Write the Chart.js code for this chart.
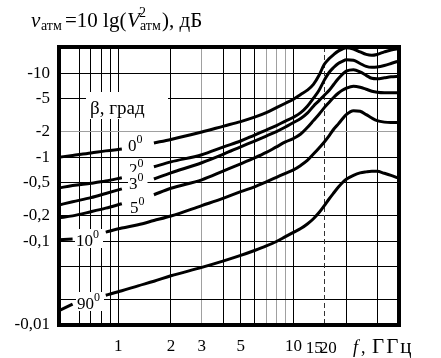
<!DOCTYPE html>
<html>
<head>
<meta charset="utf-8">
<script src="https://cdn.jsdelivr.net/npm/chart.js@4.4.1/dist/chart.umd.min.js"></script>
<style>
  html, body { margin: 0; padding: 0; background: #fff; }
  #wrap { width: 441px; height: 358px; }
</style>
</head>
<body>
<div id="wrap"><canvas id="atmChart" width="441" height="358"></canvas></div>
<script>
// frequency, GHz (null in a series = break for the curve label)
const freqs = [0.46, 0.55, 0.7, 0.85, 1.05, 1.3, 1.6, 2, 3, 4, 5, 6, 7, 8, 9, 10,
  11, 12, 13, 14, 15, 16, 17, 18, 19, 20, 22, 24, 26, 28, 30, 33, 36, 40];

// v_atm, dB, for elevation angle beta
const beta0 = [-1.0, -1.05, -1.12, -1.19, -1.25, null, -1.48, -1.63, -2.0, -2.35, -2.66, -3.0, -3.4, -3.9, -4.4, -4.9,
  -5.6, -6.3, -7.4, -9.5, -12.8, -15.0, -16.8, -18.4, -19.5, -20.2, -19.5, -18.0, -16.8, -16.4, -16.8, -18.0, -19.0, -19.8];
const beta2 = [-0.43, -0.46, -0.49, -0.52, -0.57, null, -0.77, -0.88, -1.07, -1.33, -1.56, -1.84, -2.11, -2.38, -2.7, -3.0,
  -3.4, -4.06, -5.05, -6.3, -8.3, -10.3, -11.8, -13.1, -13.9, -14.5, -14.3, -13.1, -12.1, -11.8, -11.9, -12.4, -13.1, -14.1];
const beta3 = [-0.27, -0.295, -0.33, -0.37, -0.42, null, -0.55, -0.65, -0.86, -1.09, -1.33, -1.56, -1.79, -2.02, -2.29, -2.59,
  -2.89, -3.35, -4.06, -4.72, -5.48, -6.28, -7.41, -8.61, -9.73, -10.6, -11.0, -10.4, -9.47, -8.72, -8.61, -8.85, -9.09, -9.21];
const beta5 = [-0.19, -0.2, -0.224, -0.247, -0.279, null, -0.357, -0.427, -0.538, -0.688, -0.833, -0.98, -1.14, -1.33, -1.52, -1.67,
  -1.89, -2.26, -2.73, -3.26, -3.9, -4.53, -5.19, -5.79, -6.28, -6.64, -7.01, -6.82, -6.46, -6.12, -5.95, -5.87, -5.87, -5.87];
const beta10 = [-0.104, -0.106, null, -0.128, -0.143, -0.157, -0.176, -0.199, -0.265, -0.325, -0.388, -0.444, -0.509, -0.576, -0.643, -0.707,
  -0.799, -0.916, -1.09, -1.29, -1.52, -1.81, -2.17, -2.48, -2.85, -3.22, -3.59, -3.54, -3.22, -2.93, -2.73, -2.62, -2.59, -2.59];
const beta90 = [-0.0148, -0.0177, null, -0.0226, -0.0256, -0.0293, -0.0332, -0.0386, -0.0486, -0.0581, -0.0675, -0.0773, -0.0875, -0.0989, -0.113, -0.127,
  -0.141, -0.16, -0.185, -0.219, -0.265, -0.32, -0.377, -0.438, -0.496, -0.545, -0.608, -0.651, -0.669, -0.679, -0.679, -0.643, -0.608, -0.56];

const xTicks = [0.6, 0.7, 0.8, 0.9, 1, 2, 3, 4, 5, 6, 7, 8, 9, 10, 15, 20, 30];
const xTickLabels = ['1', '2', '3', '5', '10'];
const yTicks = [-10, -5, -2, -1, -0.5, -0.2, -0.1, -0.05, -0.02, -0.01];
const yTickLabels = ['-10', '-5', '-2', '-1', '-0,5', '-0,2', '-0,1', '', '', '-0,01'];

const SERIF = "'Liberation Serif', 'Times New Roman', serif";
const series = [beta0, beta2, beta3, beta5, beta10, beta90];

// curve labels: text, left x, baseline y (pixels)
const curveLabels = [
  { t: '0', x: 128, y: 151 },
  { t: '2', x: 129, y: 175 },
  { t: '3', x: 129, y: 189 },
  { t: '5', x: 130, y: 213 },
  { t: '10', x: 76, y: 246 },
  { t: '90', x: 77, y: 309 },
];

function gridColorX(v) {
  if (v === 15) return 'rgba(0,0,0,0)';
  if (v === 3 || v === 7 || v === 8 || v === 9) return '#a0a0a0';
  return '#000';
}

const decor = {
  id: 'decor',
  beforeDatasetsDraw(chart) {
    const { ctx, chartArea: a, scales: { x } } = chart;
    ctx.save();
    // dashed line at 15 GHz
    const px = Math.round(x.getPixelForValue(15)) + 0.5;
    ctx.strokeStyle = '#333';
    ctx.lineWidth = 1;
    ctx.setLineDash([5, 3]);
    ctx.beginPath();
    ctx.moveTo(px, a.top);
    ctx.lineTo(px, a.bottom);
    ctx.stroke();
    ctx.setLineDash([]);

    // beta caption
    ctx.font = '19px ' + SERIF;
    ctx.fillStyle = '#fff';
    ctx.fillRect(86, 92, 82, 27);
    ctx.fillStyle = '#000';
    ctx.fillText('\u03b2, град', 90, 114);

    // curve labels with white patches
    curveLabels.forEach(l => {
      ctx.font = '17px ' + SERIF;
      const w = ctx.measureText(l.t).width;
      ctx.fillStyle = '#fff';
      ctx.fillRect(l.x - 1, l.y - 17, w + 11, 19);
      ctx.fillStyle = '#000';
      ctx.fillText(l.t, l.x, l.y);
      ctx.font = '12px ' + SERIF;
      ctx.fillText('0', l.x + w, l.y - 8);
    });
    ctx.restore();
  },
  afterDraw(chart) {
    const { ctx, chartArea: a, scales: { x } } = chart;
    ctx.save();
    // heavy frame
    ctx.strokeStyle = '#000';
    ctx.lineWidth = 4;
    ctx.strokeRect(a.left, a.top, a.right - a.left, a.bottom - a.top);

    ctx.fillStyle = '#000';
    // 15 and 20 labels, set a bit left of their lines
    ctx.font = '17px ' + SERIF;
    ctx.textAlign = 'center';
    ctx.fillText('15', x.getPixelForValue(15) - 10, 353);
    ctx.fillText('20', x.getPixelForValue(20) - 18, 353);
    ctx.textAlign = 'left';

    // x axis name
    ctx.font = 'italic 18px ' + SERIF;
    ctx.fillText('f', 353, 353);
    ctx.font = '18px ' + SERIF;
    ctx.fillText(',', 361, 353);
    ctx.font = '21px ' + SERIF;
    ctx.letterSpacing = '2px';
    ctx.fillText('ГГц', 372, 353);
    ctx.letterSpacing = '0px';

    // y axis title: v_атм =10 lg(V²_атм), дБ
    ctx.font = 'italic 21px ' + SERIF;
    ctx.fillText('v', 31, 27);
    ctx.font = '14px ' + SERIF;
    ctx.fillText('атм', 41, 30);
    ctx.font = '21px ' + SERIF;
    ctx.fillText('=10 lg(', 65, 27);
    ctx.font = 'italic 21px ' + SERIF;
    ctx.fillText('V', 127, 27);
    ctx.font = '14px ' + SERIF;
    ctx.fillText('2', 139, 17);
    ctx.fillText('атм', 140, 30);
    ctx.font = '21px ' + SERIF;
    ctx.fillText('), дБ', 162, 27);
    ctx.restore();
  }
};

const datasets = series.map(s => ({
  data: freqs.map((f, i) => ({ x: f, y: s[i] === null ? null : Math.abs(s[i]) })),
  borderColor: '#000',
  borderWidth: 3,
  pointRadius: 0,
  fill: false,
  spanGaps: false,
  cubicInterpolationMode: 'monotone',
}));

const chart = new Chart(document.getElementById('atmChart'), {
  type: 'line',
  data: { datasets },
  options: {
    responsive: false,
    animation: false,
    devicePixelRatio: 1,
    layout: { padding: { left: 0, right: 42, top: 47, bottom: 0 } },
    plugins: { legend: { display: false }, tooltip: { enabled: false } },
    scales: {
      x: {
        type: 'logarithmic',
        min: 0.46,
        max: 40,
        afterBuildTicks: s => { s.ticks = xTicks.map(v => ({ value: v })); },
        afterFit: s => { s.height = 33; },
        border: { display: false },
        grid: { color: c => gridColorX(c.tick && c.tick.value), lineWidth: 1, drawTicks: false },
        ticks: {
          autoSkip: false,
          maxRotation: 0,
          padding: 11,
          color: '#000',
          font: { family: SERIF, size: 17 },
          callback: v => xTickLabels.includes(String(v)) ? String(v) : '',
        },
      },
      y: {
        type: 'logarithmic',
        min: 0.01,
        max: 20.6,
        afterBuildTicks: s => { s.ticks = yTicks.map(v => ({ value: Math.abs(v) })); },
        afterFit: s => { s.width = 59; },
        border: { display: false },
        grid: {
          color: c => (c.tick && c.tick.value === 2) ? '#a0a0a0' : '#000',
          lineWidth: 1,
          drawTicks: false,
        },
        ticks: {
          autoSkip: false,
          padding: 9,
          color: '#000',
          font: { family: SERIF, size: 17 },
          callback: v => {
            const i = yTicks.findIndex(t => Math.abs(t) === v);
            return i < 0 ? '' : yTickLabels[i];
          },
        },
      },
    },
  },
  plugins: [decor],
});
</script>
</body>
</html>
